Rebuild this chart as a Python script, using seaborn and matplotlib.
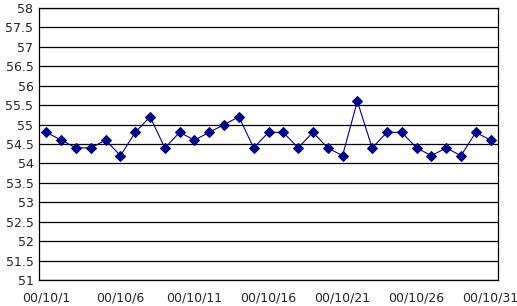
import matplotlib
matplotlib.use("Agg")
import matplotlib.pyplot as plt
import seaborn as sns
import pandas as pd

days = list(range(1, 32))
values = [54.8, 54.6, 54.4, 54.4, 54.6, 54.2, 54.8, 55.2, 54.4, 54.8,
          54.6, 54.8, 55.0, 55.2, 54.4, 54.8, 54.8, 54.4, 54.8, 54.4,
          54.2, 55.6, 54.4, 54.8, 54.8, 54.4, 54.2, 54.4, 54.2, 54.8, 54.6]
date_labels = ["00/10/%d" % d for d in days]
label_days = [1, 6, 11, 16, 21, 26, 31]
y_ticks = [51 + 0.5 * i for i in range(15)]

df = pd.DataFrame({"day": days, "value": values})

sns.set_theme(style="white")
plt.rcParams['font.family'] = ['DejaVu Sans']

fig = plt.figure(figsize=(5.17, 3.06), dpi=100)
ax = fig.add_axes([39 / 517, 1 - 280 / 306, (498 - 39) / 517, (280 - 8) / 306])

sns.lineplot(data=df, x="day", y="value", ax=ax, color="#000080", linewidth=0.8,
             marker="D", markersize=5, markeredgecolor="#000080",
             markerfacecolor="#000080")

ax.set_xlim(0.5, 31.5)
ax.set_ylim(51, 58)
ax.set_yticks(y_ticks)
ax.set_yticklabels(["%g" % v for v in y_ticks], fontsize=9)
for v in y_ticks:
    ax.axhline(v, color="black", linewidth=0.9, zorder=0)

ax.set_xticks([0.5 + 5 * k for k in range(1, 7)])
ax.set_xticklabels([])
ax.tick_params(axis="x", which="major", direction="in", length=3, width=0.9, color="black")
ax.set_xticks(label_days, minor=True)
ax.set_xticklabels([date_labels[d - 1] for d in label_days], minor=True, fontsize=9)
ax.tick_params(axis="x", which="minor", length=0, pad=8)
ax.tick_params(axis="y", length=0, pad=4)

for s in ax.spines.values():
    s.set_visible(True)
    s.set_color("black")
    s.set_linewidth(0.9)

ax.set_xlabel("")
ax.set_ylabel("")
fig.savefig("out.png", dpi=100)
